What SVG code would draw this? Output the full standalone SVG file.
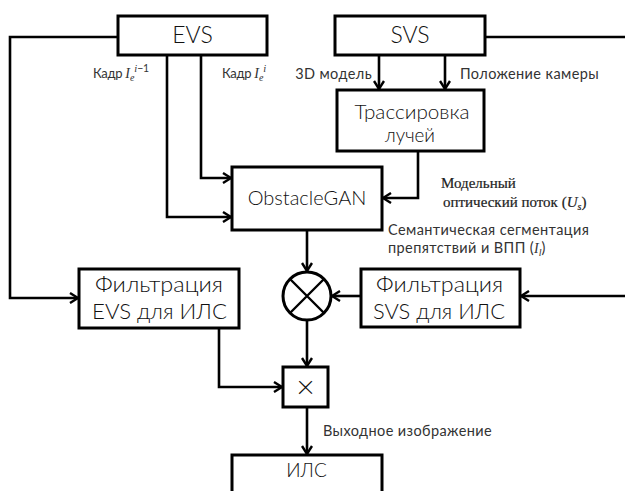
<svg xmlns="http://www.w3.org/2000/svg" width="625" height="491" viewBox="0 0 625 491">
  <style>
    .box { fill: #fff; stroke: #000; stroke-width: 3; }
    .wire { fill: none; stroke: #000; stroke-width: 2.6; }
    .big { font-family: "Lato", "Noto Sans", sans-serif; font-weight: 300; font-size: 20px; fill: #111; text-anchor: middle; }
    .lbl { font-family: "Lato", "Noto Sans", sans-serif; font-size: 14.5px; letter-spacing: 0.4px; fill: #333; }
    .kadr { font-family: "Lato", "Noto Sans", sans-serif; font-size: 13px; letter-spacing: -0.3px; fill: #333; }
    .ser { font-family: "Liberation Serif", serif; font-size: 15px; fill: #222; stroke: #222; stroke-width: 0.2; }
    .mi { font-family: "Liberation Serif", serif; font-style: italic; letter-spacing: 0; }
  </style>
  <defs>
    <marker id="arr" viewBox="0 0 10 12" refX="9" refY="6" markerWidth="10" markerHeight="12" markerUnits="userSpaceOnUse" orient="auto">
      <path d="M1,1 L9,6 L1,11" fill="none" stroke="#000" stroke-width="2.4"/>
    </marker>
  </defs>

  <rect width="625" height="491" fill="#fff"/>

  <!-- connectors -->
  <g id="connectors" class="wire">
    <path d="M118,37 H10 V298 H78" marker-end="url(#arr)"/>
    <path d="M167,55 V217 H231" marker-end="url(#arr)"/>
    <path d="M201,55 V178 H231" marker-end="url(#arr)"/>
    <path d="M485,37 H625"/>
    <path d="M379,55 V89" marker-end="url(#arr)"/>
    <path d="M445,55 V89" marker-end="url(#arr)"/>
    <path d="M418,151 V198 H383" marker-end="url(#arr)"/>
    <path d="M307,230 V271" marker-end="url(#arr)"/>
    <path d="M625,296 H521" marker-end="url(#arr)"/>
    <path d="M361,296 H332" marker-end="url(#arr)"/>
    <path d="M307,320 V366" marker-end="url(#arr)"/>
    <path d="M219,328 V387 H282" marker-end="url(#arr)"/>
    <path d="M307,407 V454" marker-end="url(#arr)"/>
  </g>

  <!-- connector labels -->
  <g id="labels">
    <text class="kadr" x="93" y="78">Кадр <tspan class="mi" font-size="14">I</tspan><tspan class="mi" font-size="10" dy="3">e</tspan><tspan class="mi" font-size="10.5" dy="-9">i</tspan><tspan font-size="10.5">−1</tspan></text>
    <text class="kadr" x="222" y="78">Кадр <tspan class="mi" font-size="14">I</tspan><tspan class="mi" font-size="10" dy="3">e</tspan><tspan class="mi" font-size="10.5" dy="-9">i</tspan></text>
    <text class="lbl" x="372" y="79" text-anchor="end">3D модель</text>
    <text class="lbl" x="460" y="79">Положение камеры</text>
    <text class="ser" x="441" y="188">Модельный</text>
    <text class="ser" x="443" y="207">оптический поток (<tspan class="mi">U</tspan><tspan class="mi" font-size="10" dy="3">s</tspan><tspan dy="-3">)</tspan></text>
    <text class="lbl" x="388" y="235">Семантическая сегментация</text>
    <text class="lbl" x="388" y="253">препятствий и ВПП (<tspan class="mi" font-size="14">I</tspan><tspan class="mi" font-size="10" dy="3">l</tspan><tspan dy="-3">)</tspan></text>
    <text class="lbl" x="323" y="436">Выходное изображение</text>
  </g>

  <!-- nodes -->
  <g id="evs">
    <rect class="box" x="118" y="16" width="149" height="39"/>
    <text class="big" x="192.5" y="43" style="font-size:23px">EVS</text>
  </g>
  <g id="svs">
    <rect class="box" x="335" y="16" width="150" height="39"/>
    <text class="big" x="410" y="43" style="font-size:23px">SVS</text>
  </g>
  <g id="raytrace">
    <rect class="box" x="337" y="90" width="147" height="61"/>
    <text class="big" x="412" y="119" style="font-size:19px" textLength="115" lengthAdjust="spacingAndGlyphs">Трассировка</text>
    <text class="big" x="410" y="142" style="font-size:19px" textLength="50" lengthAdjust="spacingAndGlyphs">лучей</text>
  </g>
  <g id="obstaclegan">
    <rect class="box" x="232" y="167" width="150" height="63"/>
    <text class="big" x="307" y="205">ObstacleGAN</text>
  </g>
  <g id="filter-evs">
    <rect class="box" x="79" y="269" width="160" height="59"/>
    <text class="big" x="159" y="292" style="font-size:21px" textLength="128" lengthAdjust="spacingAndGlyphs">Фильтрация</text>
    <text class="big" x="159.5" y="319" style="font-size:21px" textLength="135" lengthAdjust="spacingAndGlyphs">EVS для ИЛС</text>
  </g>
  <g id="filter-svs">
    <rect class="box" x="361" y="269" width="159" height="58"/>
    <text class="big" x="439.5" y="292" style="font-size:21px" textLength="127" lengthAdjust="spacingAndGlyphs">Фильтрация</text>
    <text class="big" x="439" y="319" style="font-size:21px" textLength="132" lengthAdjust="spacingAndGlyphs">SVS для ИЛС</text>
  </g>
  <g id="mixer">
    <circle class="box" cx="307" cy="296" r="24"/>
    <path d="M290,279 L324,313 M324,279 L290,313" stroke="#000" stroke-width="2.4"/>
  </g>
  <g id="multiply">
    <rect class="box" x="283" y="367" width="45" height="40"/>
    <text class="big" x="305.5" y="398" style="font-size:32px">×</text>
  </g>
  <g id="hud">
    <rect class="box" x="232" y="455" width="150" height="50"/>
    <text class="big" x="306.5" y="477" style="font-size:19px">ИЛС</text>
  </g>
</svg>
